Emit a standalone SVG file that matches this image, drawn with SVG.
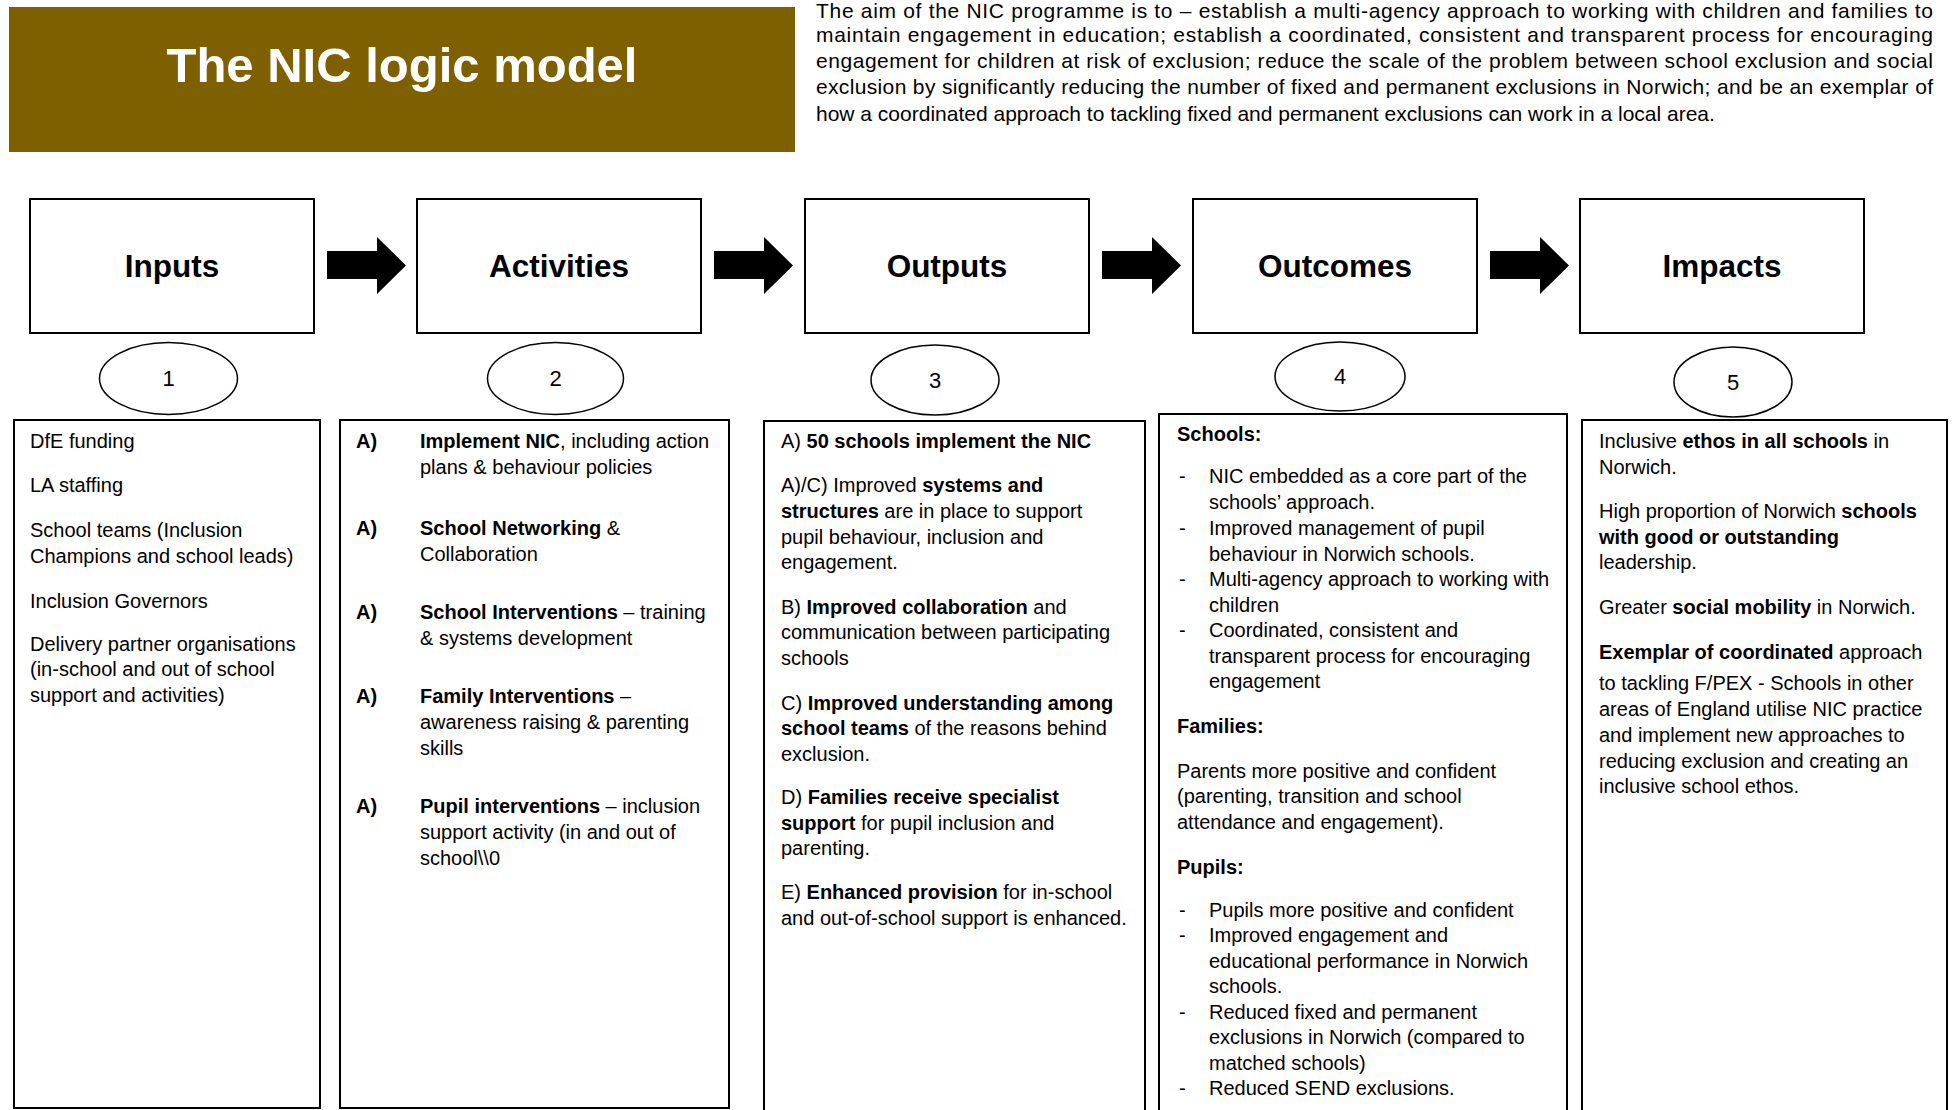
<svg xmlns="http://www.w3.org/2000/svg" width="1952" height="1110" viewBox="0 0 1952 1110">
  <style>
    text { font-family: "Liberation Sans", Arial, sans-serif; font-size: 20px; fill: #000; }
    .b { font-weight: bold; }
    .title { font-size: 49px; font-weight: bold; fill: #fff; text-anchor: middle; }
    .aim text { font-size: 21px; }
    .hdr rect { fill: #fff; stroke: #000; stroke-width: 2; }
    .hdr text { font-size: 31.5px; font-weight: bold; text-anchor: middle; }
    .num ellipse { fill: #fff; stroke: #000; stroke-width: 1.5; }
    .num text { font-size: 22px; text-anchor: middle; }
    .panel rect { fill: #fff; stroke: #000; stroke-width: 2; }
    .arrow { fill: #000; }
  </style>
  <defs>
    <path id="block-arrow" d="M0 14 H50 V0 L79 28.5 L50 57 V42 H0 Z"/>
  </defs>

  <rect width="1952" height="1110" fill="#fff"/>

  <!-- title banner -->
  <g id="title">
    <rect x="9" y="7" width="786" height="145" fill="#7f6000"/>
    <text class="title" x="402" y="82">The NIC logic model</text>
  </g>

  <!-- programme aim, justified -->
  <g id="aim" class="aim">
    <text x="816" y="18" textLength="1117" lengthAdjust="spacing">The aim of the NIC programme is to – establish a multi-agency approach to working with children and families to</text>
    <text x="816" y="42" textLength="1117" lengthAdjust="spacing">maintain engagement in education; establish a coordinated, consistent and transparent process for encouraging</text>
    <text x="816" y="68" textLength="1117" lengthAdjust="spacing">engagement for children at risk of exclusion; reduce the scale of the problem between school exclusion and social</text>
    <text x="816" y="94" textLength="1117" lengthAdjust="spacing">exclusion by significantly reducing the number of fixed and permanent exclusions in Norwich; and be an exemplar of</text>
    <text x="816" y="121">how a coordinated approach to tackling fixed and permanent exclusions can work in a local area.</text>
  </g>

  <!-- stage headers -->
  <g id="inputs" class="hdr"><rect x="30" y="199" width="284" height="134"/><text x="172" y="277">Inputs</text></g>
  <g id="activities" class="hdr"><rect x="417" y="199" width="284" height="134"/><text x="559" y="277">Activities</text></g>
  <g id="outputs" class="hdr"><rect x="805" y="199" width="284" height="134"/><text x="947" y="277">Outputs</text></g>
  <g id="outcomes" class="hdr"><rect x="1193" y="199" width="284" height="134"/><text x="1335" y="277">Outcomes</text></g>
  <g id="impacts" class="hdr"><rect x="1580" y="199" width="284" height="134"/><text x="1722" y="277">Impacts</text></g>

  <!-- block arrows between stages -->
  <g id="connectors" class="arrow">
    <use href="#block-arrow" x="327" y="237"/>
    <use href="#block-arrow" x="714" y="237"/>
    <use href="#block-arrow" x="1102" y="237"/>
    <use href="#block-arrow" x="1490" y="237"/>
  </g>

  <!-- stage numbers -->
  <g id="num-1" class="num"><ellipse cx="168.5" cy="378.5" rx="69" ry="36"/><text x="168.5" y="386">1</text></g>
  <g id="num-2" class="num"><ellipse cx="555.5" cy="378.5" rx="68" ry="36"/><text x="555.5" y="386">2</text></g>
  <g id="num-3" class="num"><ellipse cx="935" cy="380" rx="64" ry="35"/><text x="935" y="388">3</text></g>
  <g id="num-4" class="num"><ellipse cx="1340" cy="376.5" rx="65" ry="34.5"/><text x="1340" y="384">4</text></g>
  <g id="num-5" class="num"><ellipse cx="1733" cy="382" rx="59" ry="35"/><text x="1733" y="390">5</text></g>

  <!-- inputs detail -->
  <g id="panel-inputs" class="panel">
    <rect x="14" y="420" width="306" height="688"/>
    <text x="30" y="448">DfE funding</text>
    <text x="30" y="492">LA staffing</text>
    <text x="30" y="537">School teams (Inclusion</text>
    <text x="30" y="563">Champions and school leads)</text>
    <text x="30" y="608">Inclusion Governors</text>
    <text x="30" y="651">Delivery partner organisations</text>
    <text x="30" y="676">(in-school and out of school</text>
    <text x="30" y="702">support and activities)</text>
  </g>

  <!-- activities detail -->
  <g id="panel-activities" class="panel">
    <rect x="340" y="420" width="389" height="688"/>
    <text class="b" x="356" y="448">A)</text>
    <text x="420" y="448"><tspan class="b">Implement NIC</tspan>, including action</text>
    <text x="420" y="474">plans &amp; behaviour policies</text>
    <text class="b" x="356" y="535">A)</text>
    <text x="420" y="535"><tspan class="b">School Networking</tspan> &amp;</text>
    <text x="420" y="561">Collaboration</text>
    <text class="b" x="356" y="619">A)</text>
    <text x="420" y="619"><tspan class="b">School Interventions</tspan> – training</text>
    <text x="420" y="645">&amp; systems development</text>
    <text class="b" x="356" y="703">A)</text>
    <text x="420" y="703"><tspan class="b">Family Interventions</tspan> –</text>
    <text x="420" y="729">awareness raising &amp; parenting</text>
    <text x="420" y="755">skills</text>
    <text class="b" x="356" y="813">A)</text>
    <text x="420" y="813"><tspan class="b">Pupil interventions</tspan> – inclusion</text>
    <text x="420" y="839">support activity (in and out of</text>
    <text x="420" y="865">school\\0</text>
  </g>

  <!-- outputs detail -->
  <g id="panel-outputs" class="panel">
    <rect x="764" y="421" width="381" height="720"/>
    <text x="781" y="448">A) <tspan class="b">50 schools implement the NIC</tspan></text>
    <text x="781" y="492">A)/C) Improved <tspan class="b">systems and</tspan></text>
    <text x="781" y="518"><tspan class="b">structures</tspan> are in place to support</text>
    <text x="781" y="544">pupil behaviour, inclusion and</text>
    <text x="781" y="569">engagement.</text>
    <text x="781" y="614">B) <tspan class="b">Improved collaboration</tspan> and</text>
    <text x="781" y="639">communication between participating</text>
    <text x="781" y="665">schools</text>
    <text x="781" y="710">C) <tspan class="b">Improved understanding among</tspan></text>
    <text x="781" y="735"><tspan class="b">school teams</tspan> of the reasons behind</text>
    <text x="781" y="761">exclusion.</text>
    <text x="781" y="804">D) <tspan class="b">Families receive specialist</tspan></text>
    <text x="781" y="830"><tspan class="b">support</tspan> for pupil inclusion and</text>
    <text x="781" y="855">parenting.</text>
    <text x="781" y="899">E) <tspan class="b">Enhanced provision</tspan> for in-school</text>
    <text x="781" y="925">and out-of-school support is enhanced.</text>
  </g>

  <!-- outcomes detail -->
  <g id="panel-outcomes" class="panel">
    <rect x="1159" y="414" width="408" height="720"/>
    <text class="b" x="1177" y="441">Schools:</text>
    <text x="1179" y="483">-</text><text x="1209" y="483">NIC embedded as a core part of the</text>
    <text x="1209" y="509">schools’ approach.</text>
    <text x="1179" y="535">-</text><text x="1209" y="535">Improved management of pupil</text>
    <text x="1209" y="561">behaviour in Norwich schools.</text>
    <text x="1179" y="586">-</text><text x="1209" y="586">Multi-agency approach to working with</text>
    <text x="1209" y="612">children</text>
    <text x="1179" y="637">-</text><text x="1209" y="637">Coordinated, consistent and</text>
    <text x="1209" y="663">transparent process for encouraging</text>
    <text x="1209" y="688">engagement</text>
    <text class="b" x="1177" y="733">Families:</text>
    <text x="1177" y="778">Parents more positive and confident</text>
    <text x="1177" y="803">(parenting, transition and school</text>
    <text x="1177" y="829">attendance and engagement).</text>
    <text class="b" x="1177" y="874">Pupils:</text>
    <text x="1179" y="917">-</text><text x="1209" y="917">Pupils more positive and confident</text>
    <text x="1179" y="942">-</text><text x="1209" y="942">Improved engagement and</text>
    <text x="1209" y="968">educational performance in Norwich</text>
    <text x="1209" y="993">schools.</text>
    <text x="1179" y="1019">-</text><text x="1209" y="1019">Reduced fixed and permanent</text>
    <text x="1209" y="1044">exclusions in Norwich (compared to</text>
    <text x="1209" y="1070">matched schools)</text>
    <text x="1179" y="1095">-</text><text x="1209" y="1095">Reduced SEND exclusions.</text>
  </g>

  <!-- impacts detail -->
  <g id="panel-impacts" class="panel">
    <rect x="1582" y="420" width="365" height="720"/>
    <text x="1599" y="448">Inclusive <tspan class="b">ethos in all schools</tspan> in</text>
    <text x="1599" y="474">Norwich.</text>
    <text x="1599" y="518">High proportion of Norwich <tspan class="b">schools</tspan></text>
    <text x="1599" y="544"><tspan class="b">with good or outstanding</tspan></text>
    <text x="1599" y="569">leadership.</text>
    <text x="1599" y="614">Greater <tspan class="b">social mobility</tspan> in Norwich.</text>
    <text x="1599" y="659"><tspan class="b">Exemplar of coordinated</tspan> approach</text>
    <text x="1599" y="690">to tackling F/PEX - Schools in other</text>
    <text x="1599" y="716">areas of England utilise NIC practice</text>
    <text x="1599" y="742">and implement new approaches to</text>
    <text x="1599" y="768">reducing exclusion and creating an</text>
    <text x="1599" y="793">inclusive school ethos.</text>
  </g>
</svg>
